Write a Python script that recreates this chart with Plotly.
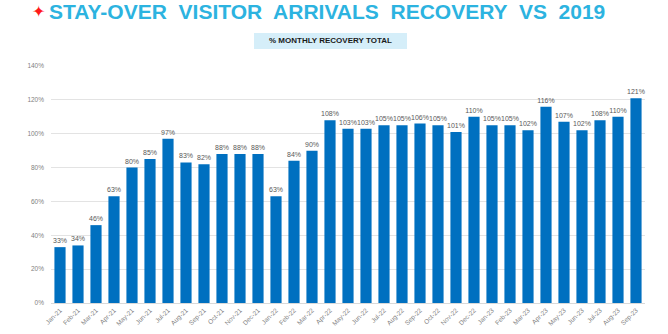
import plotly.graph_objects as go

months = ["Jan-21","Feb-21","Mar-21","Apr-21","May-21","Jun-21","Jul-21","Aug-21","Sep-21","Oct-21","Nov-21","Dec-21",
          "Jan-22","Feb-22","Mar-22","Apr-22","May-22","Jun-22","Jul-22","Aug-22","Sep-22","Oct-22","Nov-22","Dec-22",
          "Jan-23","Feb-23","Mar-23","Apr-23","May-23","Jun-23","Jul-23","Aug-23","Sep-23"]
recovery = [33,34,46,63,80,85,97,83,82,88,88,88,
            63,84,90,108,103,103,105,105,106,105,101,110,
            105,105,102,116,107,102,108,110,121]
y_ticks = [0,20,40,60,80,100,120,140]

W, H = 668, 334
ML, MR, MT, MB = 51, 23, 66, 31
PW, PH = W - ML - MR, H - MT - MB

def px(x):
    return (x - ML) / PW

def py(y):
    return (H - MB - y) / PH

fig = go.Figure()
fig.add_trace(go.Bar(
    x=months, y=recovery,
    marker=dict(color="#0070C0", line=dict(width=0)),
    text=[f"{v}%" for v in recovery], textposition="outside",
    textfont=dict(family="Liberation Sans, Arial", size=7, color="#595959"),
    constraintext="none",
    cliponaxis=False,
))

fig.update_layout(
    width=W, height=H,
    margin=dict(l=ML, r=MR, t=MT, b=MB),
    paper_bgcolor="white", plot_bgcolor="white",
    bargap=0.38, showlegend=False,
    xaxis=dict(tickangle=-45, tickfont=dict(family="Liberation Sans, Arial", size=6.5, color="#7f7f7f"),
               showline=True, linecolor="#d9d9d9", linewidth=1, ticks="", automargin=False),
    yaxis=dict(range=[0,140], tickvals=y_ticks, ticktext=[f"{v}%" for v in y_ticks],
               tickfont=dict(family="Liberation Sans, Arial", size=6.5, color="#7f7f7f"),
               gridcolor="#e3e3e3", gridwidth=1, zeroline=False, ticks="", automargin=False,
               ticklabelstandoff=6),
)
fig.add_annotation(text="✦", xref="paper", yref="paper", x=px(38), y=py(12), xanchor="center", yanchor="middle",
                   showarrow=False, font=dict(family="DejaVu Sans", size=16, color="#ff1a1a"))
fig.add_annotation(text="<b>STAY-OVER  VISITOR  ARRIVALS  RECOVERY  VS  2019</b>", xref="paper", yref="paper",
                   x=px(47), y=py(12), xanchor="left", yanchor="middle", showarrow=False,
                   font=dict(family="Liberation Sans, Arial", size=21, color="#2cb3e0"))
fig.add_shape(type="rect", xref="paper", yref="paper", x0=px(254), x1=px(407), y0=py(49), y1=py(33),
              fillcolor="#d5eef9", line=dict(width=0), layer="below")
fig.add_annotation(text="<b>% MONTHLY RECOVERY TOTAL</b>", xref="paper", yref="paper",
                   x=px(330.5), y=py(41), xanchor="center", yanchor="middle", showarrow=False,
                   font=dict(family="Liberation Sans Narrow, Liberation Sans, Arial", size=8, color="#1a1a1a"))

fig.write_html("out.html")
